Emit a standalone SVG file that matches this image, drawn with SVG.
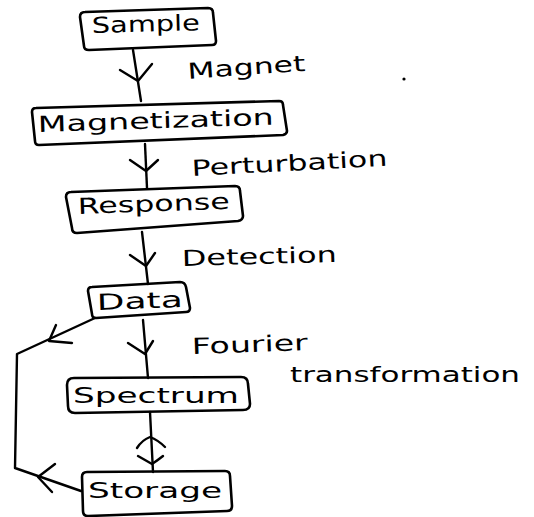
<svg xmlns="http://www.w3.org/2000/svg" width="534" height="517" viewBox="0 0 534 517">
  <defs>
    <style>
      .box { fill: none; stroke: #000; stroke-width: 2.6; stroke-linejoin: round; }
      .line { fill: none; stroke: #000; stroke-width: 2.4; stroke-linecap: round; stroke-linejoin: round; }
      .lbl { font-family: "DejaVu Sans", "Liberation Sans", sans-serif; fill: #000; }
      .nlbl { font-size: 22px; }
      .elbl { font-size: 22px; }
    </style>
  </defs>
  <rect width="534" height="517" fill="#fff"/>

  <!-- connectors -->
  <g id="connectors">
    <!-- Sample to Magnetization -->
    <path class="line" d="M133,50 L141,101"/>
    <path class="line" d="M120,70 L138,81 L152,64"/>
    <!-- Magnetization to Response -->
    <path class="line" d="M145,144 L147,188"/>
    <path class="line" d="M130,160 L146,171 L158,160"/>
    <!-- Response to Data -->
    <path class="line" d="M142,232 L148,284"/>
    <path class="line" d="M130,255 L146,266 L155,253"/>
    <!-- Data to Spectrum -->
    <path class="line" d="M143,320 L148,378"/>
    <path class="line" d="M128,343 L145,354 L153,341"/>
    <!-- Spectrum <-> Storage -->
    <path class="line" d="M150,412 L153,472"/>
    <path class="line" d="M137,448 Q142,440 150,437 Q158,440 165,447"/>
    <path class="line" d="M138,456 Q145,460 152,464 Q158,460 163,456"/>
    <!-- loop from Data round to Storage -->
    <path class="line" d="M95,318 L17,354 L15,468 L81,491"/>
    <path class="line" d="M56,325 L49,341 L72,343"/>
    <path class="line" d="M55,464 L38,477 L52,492"/>
  </g>

  <!-- nodes -->
  <g id="sample">
    <path class="box" d="M85,12 L208,8 Q213,8 213,13 L216,41 Q216,45 212,45 L89,50 Q84,50 84,46 L80,17 Q80,12 85,12 Z"/>
    <text class="lbl nlbl" x="92" y="33" textLength="108" lengthAdjust="spacingAndGlyphs" transform="rotate(-1.5 92 33)">Sample</text>
  </g>
  <g id="magnetization">
    <path class="box" d="M36,108 L279,101 Q283,101 283,105 L287,131 Q287,134 283,135 L39,145 Q35,145 35,141 L32,112 Q32,108 36,108 Z"/>
    <text class="lbl nlbl" x="38" y="132" font-size="24" textLength="236" lengthAdjust="spacingAndGlyphs" transform="rotate(-1.8 38 132)">Magnetization</text>
  </g>
  <g id="response">
    <path class="box" d="M71,192 L235,186 Q240,186 240,191 L243,216 Q243,220 238,221 L77,233 Q72,233 72,228 L66,197 Q66,192 71,192 Z"/>
    <text class="lbl nlbl" x="78" y="214" textLength="152" lengthAdjust="spacingAndGlyphs" transform="rotate(-2 78 214)">Response</text>
  </g>
  <g id="data">
    <path class="box" d="M92,287 L180,282 Q185,282 186,287 L190,308 Q190,312 186,312 L96,318 Q92,318 92,314 L88,291 Q88,287 92,287 Z"/>
    <text class="lbl nlbl" x="97" y="310" textLength="86" lengthAdjust="spacingAndGlyphs" transform="rotate(-2 97 310)">Data</text>
  </g>
  <g id="spectrum">
    <path class="box" d="M74,378 L241,377 Q248,377 248,384 L250,404 Q250,410 243,410 L75,413 Q68,413 68,406 L67,385 Q67,378 74,378 Z"/>
    <text class="lbl nlbl" x="73" y="403" textLength="166" lengthAdjust="spacingAndGlyphs">Spectrum</text>
  </g>
  <g id="storage">
    <path class="box" d="M87,472 L225,471 Q230,471 230,476 L232,506 Q232,511 227,511 L88,516 Q83,516 83,511 L82,477 Q82,472 87,472 Z"/>
    <text class="lbl nlbl" x="88" y="498" font-size="24" textLength="134" lengthAdjust="spacingAndGlyphs">Storage</text>
  </g>

  <!-- step labels -->
  <g id="labels">
    <text class="lbl elbl" x="188" y="79" font-size="24" textLength="118" lengthAdjust="spacingAndGlyphs" transform="rotate(-4 188 79)">Magnet</text>
    <text class="lbl elbl" x="192" y="176" font-size="24" textLength="196" lengthAdjust="spacingAndGlyphs" transform="rotate(-3 192 176)">Perturbation</text>
    <text class="lbl elbl" x="182" y="266" textLength="155" lengthAdjust="spacingAndGlyphs" transform="rotate(-1.5 182 266)">Detection</text>
    <text class="lbl elbl" x="192" y="354" textLength="116" lengthAdjust="spacingAndGlyphs" transform="rotate(-2 192 354)">Fourier</text>
    <text class="lbl elbl" x="290" y="382" textLength="230" lengthAdjust="spacingAndGlyphs">transformation</text>
  </g>

  <circle cx="404" cy="79" r="1.6" fill="#000"/>
</svg>
